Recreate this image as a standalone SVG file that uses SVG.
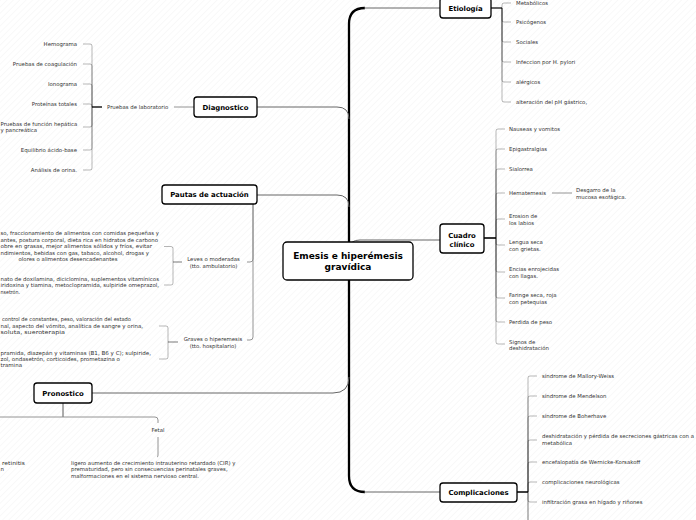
<svg xmlns="http://www.w3.org/2000/svg" width="696" height="520" viewBox="0 0 696 520">
<defs>
<pattern id="hatch" width="4.5" height="4.5" patternUnits="userSpaceOnUse" patternTransform="rotate(45)">
<line x1="0" y1="0" x2="0" y2="4.5" stroke="#ececec" stroke-width="0.7"/>
</pattern>
</defs>
<style>
.node rect{fill:#fff;stroke:#000;stroke-width:1.3}
.nt{font-family:"DejaVu Sans",Verdana,sans-serif;font-weight:bold;font-size:6.9px;text-anchor:middle;fill:#000}
.ct{font-family:"DejaVu Sans",Verdana,sans-serif;font-weight:bold;font-size:9px;text-anchor:middle;fill:#000}
.st{font-family:"DejaVu Sans",Verdana,sans-serif;font-size:5.4px;fill:#333}
.e{text-anchor:end}
.m{text-anchor:middle}
.br{fill:none;stroke:#000;stroke-opacity:0.32;stroke-width:0.9}
.ln{fill:none;stroke:#666;stroke-width:1}
.lg{fill:none;stroke:#888;stroke-width:0.9}
</style>
<rect width="696" height="520" fill="#fff"/>
<rect width="696" height="520" fill="url(#hatch)"/>

<g id="connectors">
<path d="M365,8 Q349,8 349,24 V476 Q349,492 365,492" fill="none" stroke="#000" stroke-width="2.3"/>
<path class="ln" d="M364,8 H440"/>
<path class="ln" d="M364,492 H440"/>
<path class="ln" d="M349,248 Q350,240 360,240 H440"/>
<path class="ln" d="M257,107 H337 Q349,107 349,119"/>
<path class="ln" d="M257,195 H337 Q349,195 349,207"/>
<path class="ln" d="M92,393 H333 Q349,393 349,377"/>

<!-- Etiologia branches -->
<path class="br" d="M491,8H502V5Q502,3 504,3H511"/>
<path class="br" d="M491,8H502V20Q502,22 504,22H511"/>
<path class="br" d="M491,8H502V40Q502,42 504,42H511"/>
<path class="br" d="M491,8H502V60Q502,62 504,62H511"/>
<path class="br" d="M491,8H502V80Q502,82 504,82H511"/>
<path class="br" d="M491,8H502V100Q502,102 504,102H511"/>

<!-- Cuadro clinico branches -->
<path class="br" d="M484,238H496V131Q496,129 498,129H505"/>
<path class="br" d="M484,238H496V151Q496,149 498,149H505"/>
<path class="br" d="M484,238H496V171Q496,169 498,169H505"/>
<path class="br" d="M484,238H496V195Q496,193 498,193H505"/>
<path class="br" d="M484,238H496V221Q496,219 498,219H505"/>
<path class="br" d="M484,238H496V243Q496,245 498,245H505"/>
<path class="br" d="M484,238H496V270Q496,272 498,272H505"/>
<path class="br" d="M484,238H496V296Q496,298 498,298H505"/>
<path class="br" d="M484,238H496V320Q496,322 498,322H505"/>
<path class="br" d="M484,238H496V342Q496,344 498,344H505"/>
<path class="lg" d="M552,193H572"/>

<!-- Complicaciones branches -->
<path class="br" d="M517,492H528V378Q528,376 530,376H537"/>
<path class="br" d="M517,492H528V398Q528,396 530,396H537"/>
<path class="br" d="M517,492H528V418Q528,416 530,416H537"/>
<path class="br" d="M517,492H528V442Q528,440 530,440H537"/>
<path class="br" d="M517,492H528V464Q528,462 530,462H537"/>
<path class="br" d="M517,492H528V484Q528,482 530,482H537"/>
<path class="br" d="M517,492H528V500Q528,502 530,502H537"/>
<path class="br" d="M517,492H528V525"/>
<path class="br" d="M517,492H528V525"/>

<!-- Diagnostico branches -->
<path class="lg" d="M174,107H194"/>
<path class="br" d="M102,107H92V46Q92,44 90,44H83"/>
<path class="br" d="M102,107H92V66Q92,64 90,64H83"/>
<path class="br" d="M102,107H92V86Q92,84 90,84H83"/>
<path class="br" d="M102,107H92V106Q92,104 90,104H83"/>
<path class="br" d="M102,107H92V125Q92,127 90,127H83"/>
<path class="br" d="M102,107H92V148Q92,150 90,150H83"/>
<path class="br" d="M102,107H92V168Q92,170 90,170H83"/>

<!-- Pautas branches -->
<path class="lg" d="M253,204V259Q253,262 250,262H247"/>
<path class="lg" d="M253,204V337Q253,340 250,340H247"/>
<path class="br" d="M182,262H173V248.5Q173,246.5 171,246.5H164"/>
<path class="br" d="M182,262H173V283Q173,285 171,285H164"/>
<path class="br" d="M178,342H168V328Q168,326 166,326H159"/>
<path class="br" d="M178,342H168V357Q168,359 166,359H159"/>

<!-- Pronostico branches -->
<path class="lg" d="M63,403V417H0"/>
<path class="lg" d="M63,403V417H155Q158,417 158,420V423"/>
<path class="lg" d="M158,437V455Q158,457 157,457"/>
</g>

<g id="center" class="node">
<rect x="283" y="242" width="130" height="38" rx="4"/>
<text class="ct" x="348" y="259">Emesis e hiperémesis</text>
<text class="ct" x="348" y="270">gravídica</text>
</g>

<g id="etiologia" class="node">
<rect x="440" y="-2" width="51" height="20" rx="3"/>
<text class="nt" x="465.5" y="11">Etiología</text>
</g>
<g id="etiologia-items">
<text class="st" x="516" y="5">Metabólicos</text>
<text class="st" x="516" y="24">Psicógenos</text>
<text class="st" x="516" y="44">Sociales</text>
<text class="st" x="516" y="64">Infeccion por H. pylori</text>
<text class="st" x="516" y="84">alérgicos</text>
<text class="st" x="516" y="104">alteración del pH gástrico,</text>
</g>

<g id="cuadro" class="node">
<rect x="440" y="224" width="44" height="29" rx="3"/>
<text class="nt" x="462" y="237.5">Cuadro</text>
<text class="nt" x="462" y="247">clínico</text>
</g>
<g id="cuadro-items">
<text class="st" x="509" y="131">Nauseas y vomitos</text>
<text class="st" x="509" y="151">Epigastralgias</text>
<text class="st" x="509" y="171">Sialorrea</text>
<text class="st" x="509" y="195">Hematemesis</text>
<text class="st" x="576" y="191.5">Desgarro de la</text>
<text class="st" x="576" y="198.5">mucosa esofágica.</text>
<text class="st" x="509" y="218">Erosion de</text>
<text class="st" x="509" y="224.5">los labios</text>
<text class="st" x="509" y="244">Lengua seca</text>
<text class="st" x="509" y="251">con grietas.</text>
<text class="st" x="509" y="271.3">Encias enrojecidas</text>
<text class="st" x="509" y="277.5">con llagas.</text>
<text class="st" x="509" y="297">Faringe seca, roja</text>
<text class="st" x="509" y="303.7">con petequias</text>
<text class="st" x="509" y="324">Perdida de peso</text>
<text class="st" x="509" y="344.3">Signos de</text>
<text class="st" x="509" y="350">deshidratación</text>
</g>

<g id="complicaciones" class="node">
<rect x="440" y="483" width="77" height="19" rx="3"/>
<text class="nt" x="478.5" y="494.5">Complicaciones</text>
</g>
<g id="complicaciones-items">
<text class="st" x="542" y="378">síndrome de Mallory-Weiss</text>
<text class="st" x="542" y="398">síndrome de Mendelson</text>
<text class="st" x="542" y="418">síndrome de Boherhave</text>
<text class="st" x="542" y="438" textLength="152" lengthAdjust="spacingAndGlyphs">deshidratación y pérdida de secreciones gástricas con a</text>
<text class="st" x="542" y="444.5">metabólica</text>
<text class="st" x="542" y="464">encefalopatía de Wernicke-Korsakoff</text>
<text class="st" x="542" y="484">complicaciones neurológicas</text>
<text class="st" x="542" y="504">infiltración grasa en hígado y riñones</text>
</g>

<g id="diagnostico" class="node">
<rect x="194" y="97" width="63" height="20" rx="3"/>
<text class="nt" x="225.5" y="109.5">Diagnostico</text>
</g>
<g id="diagnostico-items">
<text class="st" x="107" y="109">Pruebas de laboratorio</text>
<text class="st e" x="77" y="46">Hemograma</text>
<text class="st e" x="77" y="66">Pruebas de coagulación</text>
<text class="st e" x="77" y="86">Ionograma</text>
<text class="st e" x="77" y="106">Proteínas totales</text>
<text class="st" x="0.5" y="126">Pruebas de función hepática</text>
<text class="st" x="0.5" y="132">y pancreática</text>
<text class="st e" x="77" y="152">Equilibrio ácido-base</text>
<text class="st e" x="77" y="172">Análisis de orina.</text>
</g>

<g id="pautas" class="node">
<rect x="162" y="185" width="95" height="19" rx="3"/>
<text class="nt" x="209.5" y="197">Pautas de actuación</text>
</g>
<g id="pautas-items">
<text class="st m" x="213.5" y="261.3">Leves o moderadas</text>
<text class="st m" x="213.5" y="267.5">(tto. ambulatorio)</text>
<text class="st" x="0.5" y="235.3" textLength="158.5" lengthAdjust="spacingAndGlyphs">so, fraccionamiento de alimentos con comidas pequeñas y</text>
<text class="st" x="0.5" y="241.5" textLength="157.5" lengthAdjust="spacingAndGlyphs">antes, postura corporal, dieta rica en hidratos de carbono</text>
<text class="st" x="0.5" y="248" textLength="151.5" lengthAdjust="spacingAndGlyphs">obre en grasas, mejor alimentos sólidos y fríos, evitar</text>
<text class="st" x="0.5" y="254.7" textLength="148.5" lengthAdjust="spacingAndGlyphs">ndimientos, bebidas con gas, tabaco, alcohol, drogas y</text>
<text class="st m" x="68" y="261.3">olores o alimentos desencadenantes</text>
<text class="st" x="0.5" y="281" textLength="158.5" lengthAdjust="spacingAndGlyphs">nato de doxilamina, diciclomina, suplementos vitamínicos</text>
<text class="st" x="0.5" y="287.3" textLength="158.5" lengthAdjust="spacingAndGlyphs">iridoxina y tiamina, metoclopramida, sulpiride omeprazol,</text>
<text class="st" x="0.5" y="294" textLength="19.5" lengthAdjust="spacingAndGlyphs">nsetrón.</text>
<text class="st m" x="213" y="341">Graves o hiperemesis</text>
<text class="st m" x="213" y="347.5">(tto. hospitalario)</text>
<text class="st" x="2" y="321.3" textLength="129" lengthAdjust="spacingAndGlyphs">control de constantes, peso, valoración del estado</text>
<text class="st" x="0.5" y="328" textLength="142.5" lengthAdjust="spacingAndGlyphs">nal, aspecto del vómito, analítica de sangre y orina,</text>
<text class="st" x="0.5" y="334.3" textLength="64.5" lengthAdjust="spacingAndGlyphs">soluta, sueroterapia</text>
<text class="st" x="0.5" y="354.7" textLength="150.5" lengthAdjust="spacingAndGlyphs">pramida, diazepán y vitaminas (B1, B6 y C); sulpiride,</text>
<text class="st" x="0.5" y="361" textLength="119.5" lengthAdjust="spacingAndGlyphs">zol, ondasetrón, corticoides, prometazina o</text>
<text class="st" x="0.5" y="367.3" textLength="21.5" lengthAdjust="spacingAndGlyphs">tramina</text>
</g>

<g id="pronostico" class="node">
<rect x="34" y="383" width="58" height="20" rx="3"/>
<text class="nt" x="63" y="395.5">Pronostico</text>
</g>
<g id="pronostico-items">
<text class="st m" x="158" y="432">Fetal</text>
<text class="st" x="71" y="464.7">ligero aumento de crecimiento intrauterino retardado (CIR) y</text>
<text class="st" x="71" y="471.3">prematuridad, pero sin consecuencias perinatales graves,</text>
<text class="st" x="71" y="478">malformaciones en el sistema nervioso central.</text>
<text class="st" x="2" y="465" textLength="23" lengthAdjust="spacingAndGlyphs">retinitis</text>
<text class="st" x="0.5" y="471">n</text>
</g>
</svg>
